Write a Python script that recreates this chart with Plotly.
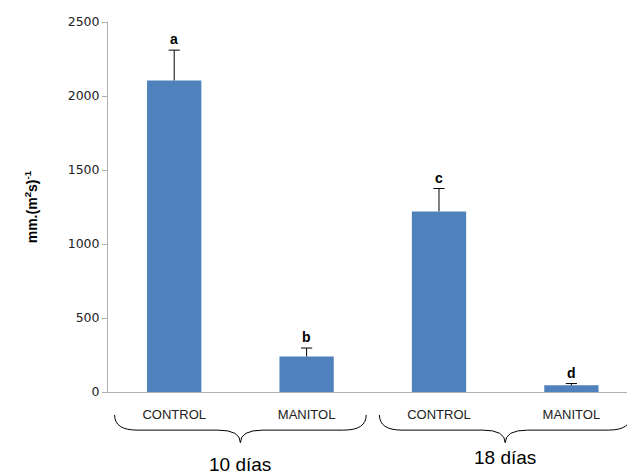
import plotly.graph_objects as go

categories = ["CONTROL", "MANITOL", "CONTROL", "MANITOL"]
values = [2105, 240, 1220, 45]
errors = [205, 57, 155, 12]
letters = ["a", "b", "c", "d"]
groups = ["10 días", "18 días"]

xpos = list(range(len(categories)))
tops = [v + e for v, e in zip(values, errors)]

fig = go.Figure()
fig.add_trace(go.Bar(
    x=xpos, y=values, width=0.41,
    marker=dict(color="#4F81BD", line=dict(width=0)),
    error_y=dict(type="data", array=errors, arrayminus=[0]*len(errors),
                 symmetric=False, color="black", thickness=1, width=0),
    showlegend=False,
))
# error bar caps
fig.add_trace(go.Scatter(
    x=xpos, y=tops, mode="markers",
    marker=dict(symbol="line-ew", size=8, line=dict(color="black", width=1)),
    showlegend=False, hoverinfo="skip",
))

for xi, t, lab in zip(xpos, tops, letters):
    fig.add_annotation(x=xi, y=t, text="<b>%s</b>" % lab, showarrow=False,
                       yanchor="bottom", yshift=1,
                       font=dict(family="Liberation Sans, Arial", size=14, color="black"))

# braces under each group
y_top, y_mid, y_tip = -0.062, -0.103, -0.137
for gi, g in enumerate(groups):
    x0 = xpos[2*gi] - 0.45
    x1 = xpos[2*gi+1] + 0.45
    xc = (xpos[2*gi] + xpos[2*gi+1]) / 2
    d = 0.17
    path = (f"M {x0},{y_top} Q {x0},{y_mid} {x0+d},{y_mid} "
            f"L {xc-d},{y_mid} Q {xc},{y_mid} {xc},{y_tip} "
            f"Q {xc},{y_mid} {xc+d},{y_mid} "
            f"L {x1-d},{y_mid} Q {x1},{y_mid} {x1},{y_top}")
    fig.add_shape(type="path", path=path, xref="x", yref="paper",
                  line=dict(color="black", width=1))
    fig.add_annotation(x=xc, y=[-0.195, -0.178][gi], xref="x", yref="paper",
                       text=g, showarrow=False, yanchor="middle",
                       font=dict(family="Liberation Sans, Arial", size=19, color="black"))

fig.update_layout(
    width=627, height=475,
    margin=dict(l=108, r=0, t=22, b=83),
    plot_bgcolor="white", paper_bgcolor="white",
    xaxis=dict(
        tickmode="array", tickvals=xpos, ticktext=categories,
        range=[-0.5, 3.42], showgrid=False, zeroline=False,
        showline=True, linecolor="#b0b0b0", linewidth=1,
        ticks="", ticklabelstandoff=10,
        tickfont=dict(family="Liberation Sans, Arial", size=13, color="#222222"),
    ),
    yaxis=dict(
        range=[0, 2500], tickvals=[0, 500, 1000, 1500, 2000, 2500],
        showgrid=False, zeroline=False,
        showline=True, linecolor="#b0b0b0", linewidth=1,
        ticks="outside", ticklen=5, tickcolor="#b0b0b0",
        tickfont=dict(family="DejaVu Sans, Verdana", size=12.5, color="#222222"),
        title=dict(text="<b>mm.(m<sup>2</sup>s)<sup>-1</sup></b>", standoff=26,
                   font=dict(family="Liberation Sans, Arial", size=14, color="black")),
    ),
)

fig.write_html("out.html")
